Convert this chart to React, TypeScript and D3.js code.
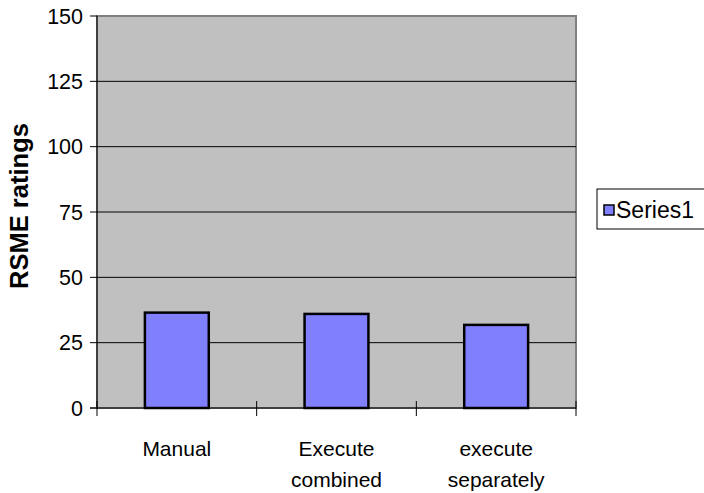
import React from "react";
import * as d3 from "d3";

const categories: string[][] = [["Manual"], ["Execute", "combined"], ["execute", "separately"]];
const values: number[] = [36.5, 36.0, 31.8];
const yTicks: number[] = [0, 25, 50, 75, 100, 125, 150];
const seriesName = "Series1";
const yLabel = "RSME ratings";

export default function App() {
  const W = 704, H = 493;
  const left = 97, right = 576, top = 16, bottom = 408;
  const y = d3.scaleLinear().domain([0, 150]).range([bottom, top]);
  const x = d3.scaleBand<number>().domain(d3.range(categories.length)).range([left, right]).paddingInner(0).paddingOuter(0);
  const bw = x.bandwidth() / 2.5;
  const font = "Arial, 'Liberation Sans', sans-serif";
  return (
    <svg width={W} height={H} style={{ position: "absolute", left: 0, top: 0, background: "#fff" }}>
      <rect x={left} y={top} width={right - left} height={bottom - top} fill="#c0c0c0" stroke="#808080" strokeWidth={2} />
      {yTicks.filter(t => t > 0 && t < 150).map(t => (
        <line key={t} x1={left} x2={right} y1={y(t)} y2={y(t)} stroke="#000" strokeWidth={1} />
      ))}
      {values.map((v, i) => (
        <rect key={i} x={x(i)! + (x.bandwidth() - bw) / 2} y={y(v)} width={bw} height={y(0) - y(v)} fill="#8080ff" stroke="#000" strokeWidth={2.5} />
      ))}
      <line x1={left} x2={left} y1={top} y2={bottom} stroke="#000" strokeWidth={1} />
      <line x1={left - 7} x2={right} y1={bottom} y2={bottom} stroke="#000" strokeWidth={1} />
      {yTicks.map(t => (
        <g key={t}>
          <line x1={left - 7} x2={left} y1={y(t)} y2={y(t)} stroke="#000" />
          <text x={left - 14} y={y(t)} dy="0.36em" textAnchor="end" fontFamily={font} fontSize={21.5} fill="#000" transform={`translate(0,0)`}>{t}</text>
        </g>
      ))}
      {d3.range(categories.length + 1).map(i => {
        const xx = left + i * x.bandwidth();
        return <line key={i} x1={xx} x2={xx} y1={bottom - 7} y2={bottom + 8} stroke="#000" />;
      })}
      {categories.map((c, i) => (
        <text key={i} x={x(i)! + x.bandwidth() / 2} y={456} textAnchor="middle" fontFamily={font} fontSize={21} fill="#000">
          {c.map((line, j) => (
            <tspan key={j} x={x(i)! + x.bandwidth() / 2} dy={j === 0 ? 0 : 31}>{line}</tspan>
          ))}
        </text>
      ))}
      <text transform={`translate(28,206) rotate(-90)`} textAnchor="middle" fontFamily={font} fontSize={25.5} fontWeight="bold" fill="#000">{yLabel}</text>
      <rect x={597} y={189} width={110} height={40} fill="#fff" stroke="#000" strokeWidth={1} />
      <rect x={604} y={205} width={10} height={10} fill="#8080ff" stroke="#000" strokeWidth={1.5} />
      <text x={616} y={210} dy="0.36em" fontFamily={font} fontSize={23} fill="#000">{seriesName}</text>
    </svg>
  );
}
